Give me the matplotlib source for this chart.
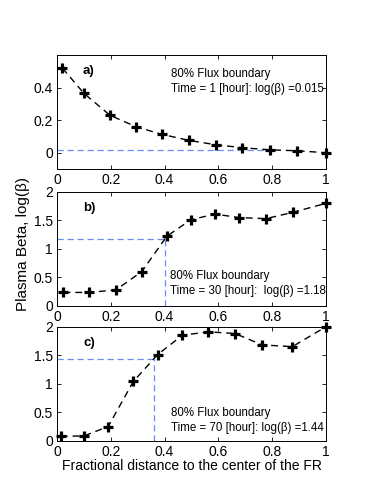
import matplotlib
matplotlib.use("Agg")
import matplotlib.pyplot as plt

plt.rcParams['font.family'] = ['Liberation Sans', 'DejaVu Sans']

# --- data ---
x_a = [0.02, 0.10, 0.197, 0.293, 0.39, 0.49, 0.59, 0.689, 0.79, 0.893, 1.0]
beta_a = [0.52, 0.365, 0.23, 0.16, 0.113, 0.076, 0.049, 0.031, 0.018, 0.012, 0.0]

x_b = [0.024, 0.12, 0.219, 0.315, 0.408, 0.497, 0.587, 0.677, 0.776, 0.876, 1.0]
beta_b = [0.235, 0.235, 0.28, 0.60, 1.22, 1.51, 1.61, 1.55, 1.53, 1.64, 1.80]

x_c = [0.014, 0.10, 0.19, 0.284, 0.374, 0.466, 0.563, 0.662, 0.763, 0.875, 1.0]
beta_c = [0.076, 0.082, 0.247, 1.04, 1.51, 1.85, 1.91, 1.88, 1.68, 1.65, 2.0]

# 80% flux boundary: (distance, log beta)
bound_a = (0.8, 0.015)
bound_b = (0.4, 1.18)
bound_c = (0.36, 1.44)

panels = [
    ("a)", x_a, beta_a, bound_a, "Time = 1 [hour]: log(\u03b2) =0.015",
     (-0.1, 0.6), [0, 0.2, 0.4], (0.424, 0.83, 0.70), False),
    ("b)", x_b, beta_b, bound_b, "Time = 30 [hour]:  log(\u03b2) =1.18",
     (0, 2), [0, 0.5, 1, 1.5, 2], (0.42, 0.26, 0.13), True),
    ("c)", x_c, beta_c, bound_c, "Time = 70 [hour]: log(\u03b2) =1.44",
     (0, 2), [0, 0.5, 1, 1.5, 2], (0.424, 0.24, 0.115), True),
]

fig = plt.figure(figsize=(3.69, 5.03), dpi=100)
bottoms = [0.664, 0.392, 0.124]
blue = '#6b8cf2'

for (tag, xs, ys, bnd, tlabel, ylim, yticks, tpos, vline), b in zip(panels, bottoms):
    ax = fig.add_axes([0.1545, b, 0.729, 0.2265])
    bx, by = bnd
    ax.plot([0, bx], [by, by], color=blue, linestyle='--', linewidth=0.9, dashes=(5, 3))
    if vline:
        ax.plot([bx, bx], [ylim[0], by], color=blue, linestyle='--', linewidth=0.9, dashes=(5, 3))
    ax.plot(xs, ys, color='black', linestyle='--', linewidth=1.0, dashes=(5, 3.5),
            marker='+', markersize=7, markeredgewidth=2.3, clip_on=False)
    ax.set_xlim(0, 1)
    ax.set_ylim(*ylim)
    ax.set_yticks(yticks)
    ax.set_yticklabels(['%g' % t for t in yticks])
    ax.set_xticks([0, 0.2, 0.4, 0.6, 0.8, 1])
    ax.set_xticklabels(['0', '0.2', '0.4', '0.6', '0.8', '1'])
    ax.tick_params(direction='in', top=True, right=True, length=3, width=0.6,
                   labelsize=10, pad=3)
    for s in ax.spines.values():
        s.set_linewidth(0.7)
    ax.text(0.097, 0.86, tag, transform=ax.transAxes,
            fontsize=9.5, fontweight='bold', va='center')
    tx, ty1, ty2 = tpos
    ax.text(tx, ty1, "80% Flux boundary", transform=ax.transAxes, fontsize=8.3, va='center')
    ax.text(tx, ty2, tlabel, transform=ax.transAxes, fontsize=8.3, va='center')
    if tag == "b)":
        ax.set_ylabel("Plasma Beta, log(\u03b2)", fontsize=11, va='center')
        ax.yaxis.set_label_coords(-0.128, 0.545)
    if tag == "c)":
        ax.set_xlabel("Fractional distance to the center of the FR", fontsize=10, labelpad=0)

fig.savefig("out.png", dpi=100)
